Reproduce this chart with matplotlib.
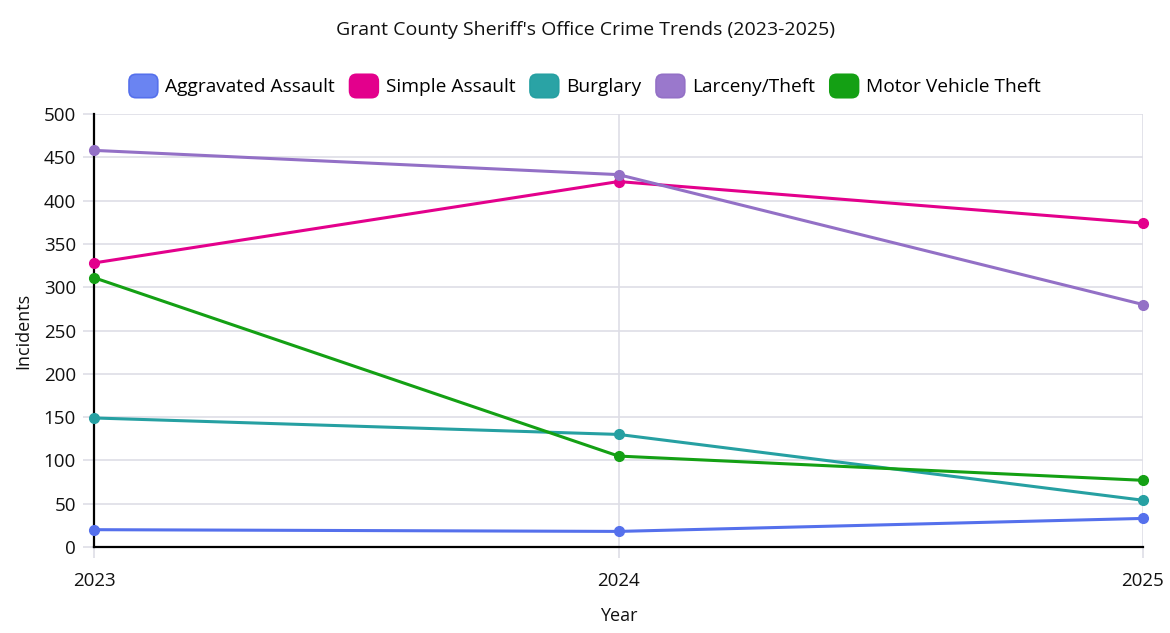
import matplotlib
matplotlib.use("Agg")
import matplotlib.pyplot as plt
from matplotlib.patches import FancyBboxPatch
from matplotlib.legend_handler import HandlerBase
from matplotlib.lines import Line2D

years = ["2023", "2024", "2025"]
series_names = ["Aggravated Assault", "Simple Assault", "Burglary", "Larceny/Theft", "Motor Vehicle Theft"]
aggravated = [20, 18, 33]
simple = [328, 422, 374]
burglary = [149, 130, 54]
larceny = [458, 430, 280]
mvt = [311, 105, 77]
y_ticks = [0, 50, 100, 150, 200, 250, 300, 350, 400, 450, 500]

line_colors = ["#5570EC", "#E3008C", "#26A0A2", "#9370C6", "#14A014"]
fill_colors = ["#6A84F2", "#E3008C", "#2AA3A5", "#9A78CC", "#14A014"]

plt.rcParams['font.family'] = ['Open Sans', 'DejaVu Sans']

fig = plt.figure(figsize=(11.7, 6.33), dpi=100)
ax = fig.add_axes([94/1170, 1-547/633, (1143-94)/1170, (547-114)/633])

xs = list(range(len(years)))
data = [aggravated, simple, burglary, larceny, mvt]
for vals, c in zip(data, line_colors):
    ax.plot(xs, vals, color=c, lw=2.2, marker='o', markersize=7, zorder=3, clip_on=False)

ax.set_xlim(0, 2)
ax.set_ylim(0, 500)
ax.set_yticks(y_ticks)
ax.set_xticks(xs)
ax.set_xticklabels(years)
ax.grid(True, color="#DEDEE6", lw=1.2, zorder=0)
ax.set_axisbelow(True)
for s in ["top", "right"]:
    ax.spines[s].set_visible(False)
ax.spines["left"].set_color("black")
ax.spines["left"].set_linewidth(1.6)
ax.spines["bottom"].set_color("black")
ax.spines["bottom"].set_linewidth(1.6)
ax.tick_params(axis='both', colors="#DEDEE6", length=8, width=1.2, labelcolor="#111111", labelsize=13.5)
ax.tick_params(axis='y', pad=5)
ax.tick_params(axis='x', pad=10)
ax.set_xlabel("Year", fontsize=13, labelpad=12, color="#111111")
ax.set_ylabel("Incidents", fontsize=13, labelpad=8, color="#111111")

fig.text(0.5, 1-30/633, "Grant County Sheriff's Office Crime Trends (2023-2025)",
         ha='center', va='center', fontsize=14, color="#111111")


class RoundHandler(HandlerBase):
    def create_artists(self, legend, orig_handle, xdescent, ydescent, width, height, fontsize, trans):
        p = FancyBboxPatch((-xdescent, -ydescent), width, height,
                           boxstyle="round,pad=0,rounding_size=5",
                           facecolor=orig_handle.get_markerfacecolor(),
                           edgecolor=orig_handle.get_color(), lw=1.2, transform=trans)
        return [p]


handles = [Line2D([], [], color=lc, markerfacecolor=fc) for lc, fc in zip(line_colors, fill_colors)]
fig.legend(handles, series_names, loc='center', bbox_to_anchor=(0.5, 1-86/633), ncol=5,
           frameon=False, fontsize=13.8, handlelength=1.5, handleheight=1.5,
           handletextpad=0.4, columnspacing=0.75,
           handler_map={Line2D: RoundHandler()})

fig.savefig("out.png", dpi=100)
